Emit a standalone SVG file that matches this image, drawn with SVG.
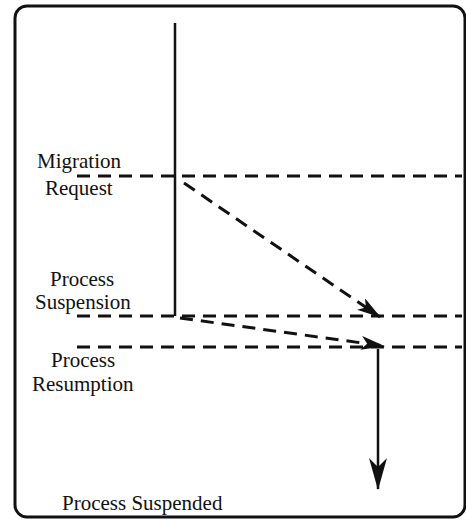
<svg xmlns="http://www.w3.org/2000/svg" width="466" height="522" viewBox="0 0 466 522">
<style>
text{font-family:"Liberation Serif","Times New Roman",serif;font-size:21px;fill:#111}
.dash{stroke:#111;stroke-width:3;stroke-dasharray:13 8;fill:none}
.solid{stroke:#111;stroke-width:2.5;fill:none}
</style>
<defs>
<marker id="ah" viewBox="0 0 24 14" refX="23" refY="7" markerWidth="24" markerHeight="14" markerUnits="userSpaceOnUse" orient="auto">
<path d="M0,0 L24,7 L0,14 L6,7 Z" fill="#111"/>
</marker>
<marker id="ahv" viewBox="0 0 32 18" refX="31" refY="9" markerWidth="32" markerHeight="18" markerUnits="userSpaceOnUse" orient="auto">
<path d="M0,0 L32,9 L0,18 L9,9 Z" fill="#111"/>
</marker>
</defs>
<rect x="15" y="6" width="450" height="511" rx="12" fill="#fff" stroke="#111" stroke-width="3"/>
<g id="timeline">
<path class="solid" d="M175,23 V316"/>
</g>
<g id="levels">
<path class="dash" d="M77,176 H462"/>
<path class="dash" d="M77,316 H462"/>
<path class="dash" d="M77,347 H462"/>
</g>
<g id="connectors">
<path class="dash" d="M184,183 L380,317" marker-end="url(#ah)"/>
<path class="dash" d="M180,318 L384,346" marker-end="url(#ah)"/>
<path class="solid" d="M378,349 V489" marker-end="url(#ahv)"/>
</g>
<g id="label-migration">
<text x="37" y="168">Migration</text>
<text x="45" y="195">Request</text>
</g>
<g id="label-suspension">
<text x="50" y="286">Process</text>
<text x="35" y="309">Suspension</text>
</g>
<g id="label-resumption">
<text x="51" y="367">Process</text>
<text x="32" y="391">Resumption</text>
</g>
<g id="label-suspended">
<text x="62" y="510">Process Suspended</text>
</g>
</svg>
